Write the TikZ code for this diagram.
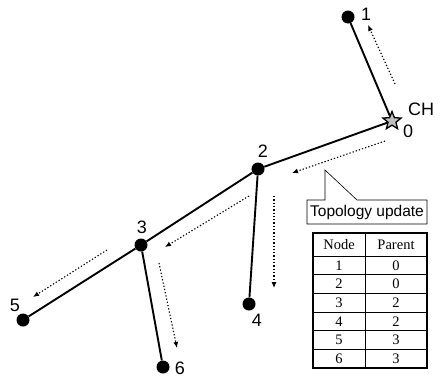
\documentclass[tikz,border=0pt]{standalone}
\usepackage{fontspec}
\setmainfont{Liberation Sans}
\newfontfamily\tabfont{Liberation Serif}
\usetikzlibrary{shapes.geometric,arrows.meta}
\tikzset{
  sensor/.style={circle,fill=black,inner sep=0pt,minimum size=13pt},
  head/.style={star,star points=5,star point ratio=2.3,draw=black,fill=gray!50,line width=1.3pt,inner sep=0pt,minimum size=19pt},
  link/.style={line width=1.9pt},
  upd/.style={line width=1.1pt,dash pattern=on 1.3pt off 2pt,-{Latex[length=6pt,width=5pt]}},
  lbl/.style={font=\fontsize{18}{20}\selectfont,inner sep=0pt},
  cell/.style={font=\tabfont\fontsize{14.5}{16}\selectfont,inner sep=0pt}
}
\begin{document}
\begin{tikzpicture}[x=1pt,y=-1pt]
\useasboundingbox (0,0) rectangle (441,378);

\node[head] (n0) at (392,121) {};
\node[sensor] (n1) at (348,17) {};
\node[sensor] (n2) at (258,169) {};
\node[sensor] (n3) at (141,245) {};
\node[sensor] (n4) at (249,304) {};
\node[sensor] (n5) at (23,320) {};
\node[sensor] (n6) at (163,367) {};

\node[lbl] (l1) at (366,14) {1};
\node[lbl] (ch) at (421,109) {CH};
\node[lbl] (l0) at (408,131) {0};
\node[lbl] (l2) at (263,151) {2};
\node[lbl] (l3) at (142,227) {3};
\node[lbl] (l4) at (257,320) {4};
\node[lbl] (l5) at (15,305) {5};
\node[lbl] (l6) at (180,368) {6};

\draw[link] (n1) -- (n0);
\draw[link] (n0) -- (n2);
\draw[link] (n2) -- (n3);
\draw[link] (n2) -- (n4);
\draw[link] (n3) -- (n5);
\draw[link] (n3) -- (n6);

\coordinate (u1a) at (395,84);
\coordinate (u1b) at (368,25);
\coordinate (u2a) at (385,141);
\coordinate (u2b) at (292,173);
\coordinate (u3a) at (249,196);
\coordinate (u3b) at (165,247);
\coordinate (u4a) at (274,196);
\coordinate (u4b) at (274,288);
\coordinate (u5a) at (107,250);
\coordinate (u5b) at (33,297);
\coordinate (u6a) at (159,263);
\coordinate (u6b) at (177,348);
\draw[upd] (u1a) -- (u1b);
\draw[upd] (u2a) -- (u2b);
\draw[upd] (u3a) -- (u3b);
\draw[upd] (u4a) -- (u4b);
\draw[upd] (u5a) -- (u5b);
\draw[upd] (u6a) -- (u6b);

\draw[line width=0.6pt,fill=white] (307,200) -- (325,200) -- (325,170) -- (357,200) -- (427,200) -- (427,224) -- (307,224) -- cycle;
\node[font=\fontsize{15.5}{17}\selectfont,inner sep=0pt] (note) at (367,212) {Topology update};

\draw[line width=1.4pt] (313,233) rectangle (427,368);
\draw[line width=0.5pt] (365,233) -- (365,368);
\draw[line width=0.6pt] (313,256) -- (427,256);
\draw[line width=0.6pt] (313,274.7) -- (427,274.7);
\draw[line width=0.6pt] (313,293.3) -- (427,293.3);
\draw[line width=0.6pt] (313,312) -- (427,312);
\draw[line width=0.6pt] (313,330.7) -- (427,330.7);
\draw[line width=0.6pt] (313,349.3) -- (427,349.3);

\node[cell] (hn) at (339,244.5) {Node};
\node[cell] (hp) at (396,244.5) {Parent};
\node[cell] (a1) at (339,265.3) {1};
\node[cell] (b1) at (396,265.3) {0};
\node[cell] (a2) at (339,284) {2};
\node[cell] (b2) at (396,284) {0};
\node[cell] (a3) at (339,302.7) {3};
\node[cell] (b3) at (396,302.7) {2};
\node[cell] (a4) at (339,321.3) {4};
\node[cell] (b4) at (396,321.3) {2};
\node[cell] (a5) at (339,340) {5};
\node[cell] (b5) at (396,340) {3};
\node[cell] (a6) at (339,358.7) {6};
\node[cell] (b6) at (396,358.7) {3};
\end{tikzpicture}
\end{document}
